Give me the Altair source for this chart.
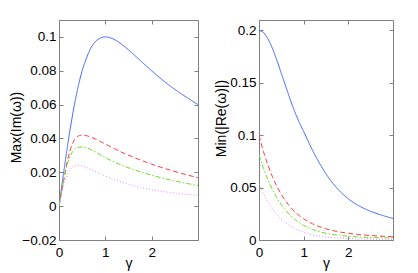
import altair as alt
import pandas as pd

gamma = [0.0, 0.1, 0.2, 0.3, 0.4, 0.5, 0.6, 0.7, 0.8, 0.9, 1.0,
         1.2, 1.4, 1.6, 1.8, 2.0, 2.2, 2.4, 2.6, 2.8, 3.0]

series_names = ["a", "b", "c", "d"]
series_colors = ["#3f62ff", "#ff3b3b", "#6fdd22", "#e48cff"]
series_dashes = [[1, 0], [5, 3], [5, 2, 1.5, 2], [1, 2]]

# Left panel: Max(Im(omega))
im_a = [0, 0.0198, 0.0385, 0.055, 0.069, 0.080, 0.088, 0.094, 0.0976, 0.0994, 0.1,
        0.0984, 0.0946, 0.0899, 0.0849, 0.080, 0.0753, 0.0710, 0.0671, 0.0635, 0.060]
im_b = [0, 0.015, 0.029, 0.0375, 0.0412, 0.042, 0.0416, 0.0407, 0.0395, 0.0381, 0.0367,
        0.0339, 0.0313, 0.0290, 0.0268, 0.0248, 0.0230, 0.0213, 0.0197, 0.0182, 0.0168]
im_c = [0, 0.015, 0.0265, 0.0324, 0.0346, 0.035, 0.0344, 0.0333, 0.0318, 0.0302, 0.0287,
        0.0260, 0.0237, 0.0217, 0.0199, 0.0183, 0.0168, 0.0155, 0.0143, 0.0132, 0.0122]
im_d = [0, 0.012, 0.0195, 0.0233, 0.0243, 0.0238, 0.0228, 0.0215, 0.0202, 0.019, 0.0178,
        0.0157, 0.0138, 0.0122, 0.0108, 0.0097, 0.0088, 0.008, 0.0074, 0.0069, 0.0065]

# Right panel: Min(|Re(omega)|)
re_a = [0.2, 0.198, 0.192, 0.183, 0.1715, 0.159, 0.1465, 0.134, 0.1225, 0.1125, 0.1035,
        0.0855, 0.0700, 0.0570, 0.0470, 0.0393, 0.0335, 0.0292, 0.0258, 0.0230, 0.0206]
re_b = [0.1, 0.0845, 0.0715, 0.0605, 0.0512, 0.0435, 0.0370, 0.0315, 0.0270, 0.0233, 0.0202,
        0.0154, 0.0120, 0.0095, 0.0077, 0.0064, 0.0054, 0.0046, 0.0040, 0.0035, 0.0031]
re_c = [0.0815, 0.0685, 0.0575, 0.0482, 0.0403, 0.0337, 0.0282, 0.0236, 0.0198, 0.0166, 0.0140,
        0.0101, 0.0074, 0.0056, 0.0044, 0.0036, 0.0030, 0.0026, 0.0023, 0.0021, 0.0019]
re_d = [0.0535, 0.0440, 0.0361, 0.0296, 0.0243, 0.0199, 0.0163, 0.0134, 0.0110, 0.0090, 0.0074,
        0.0050, 0.0034, 0.0025, 0.0019, 0.0015, 0.0012, 0.0010, 0.0008, 0.0007, 0.0006]

x_ticks = [0, 1, 2]
left_ticks = [-0.02, 0, 0.02, 0.04, 0.06, 0.08, 0.1]
right_ticks = [0, 0.05, 0.1, 0.15, 0.2]


def long_df(cols):
    rows = []
    for name, vals in zip(series_names, cols):
        for g, v in zip(gamma, vals):
            rows.append({"gamma": g, "value": v, "series": name})
    return pd.DataFrame(rows)


FRAME = "#808080"
FONT = "Liberation Sans"


def panel(df, ytitle, ydomain, yticks, width, title_x, title_y):
    xs = alt.Scale(domain=[0, 3], nice=False, zero=False)
    ys = alt.Scale(domain=ydomain, nice=False, zero=False)
    common = dict(domain=False, grid=False, tickSize=4, offset=-4,
                  tickColor=FRAME, labelFont=FONT, labelFontSize=13.5,
                  labelColor="#000000", titleFont=FONT, titleFontSize=14,
                  titleFontWeight="normal", titleColor="#000000",
                  labelOverlap=False, labelFlush=False)
    lines = alt.Chart(df).mark_line(strokeWidth=1, interpolate="monotone", clip=True).encode(
        x=alt.X("gamma:Q", scale=xs,
                axis=alt.Axis(orient="bottom", values=x_ticks, format="~g", title="γ",
                              labelPadding=5, titlePadding=-2, **common)),
        y=alt.Y("value:Q", scale=ys,
                axis=alt.Axis(orient="left", values=yticks, format="~g", title=ytitle,
                              labelPadding=3, titleX=title_x, titleY=title_y,
                              titleBaseline="middle", **common)),
        color=alt.Color("series:N", scale=alt.Scale(domain=series_names, range=series_colors),
                        legend=None),
        strokeDash=alt.StrokeDash("series:N",
                                  scale=alt.Scale(domain=series_names, range=series_dashes),
                                  legend=None),
    )
    mirror = alt.Chart(df).mark_line(opacity=0).encode(
        x=alt.X("gamma:Q", scale=xs,
                axis=alt.Axis(orient="top", values=x_ticks, labels=False, title=None, **common)),
        y=alt.Y("value:Q", scale=ys,
                axis=alt.Axis(orient="right", values=yticks, labels=False, title=None, **common)),
        detail="series:N",
    )
    return alt.layer(lines, mirror).resolve_axis(x="independent", y="independent").properties(
        width=width, height=220)


left = panel(long_df([im_a, im_b, im_c, im_d]), "Max(Im(ω))", [-0.02, 0.11], left_ticks,
             139, -46.5, 107)
right = panel(long_df([re_a, re_b, re_c, re_d]), "Min(|Re(ω)|)", [0, 0.21], right_ticks,
              134, -41.5, 98)

chart = alt.hconcat(left, right, spacing=15).properties(
    padding={"left": 1, "top": 11, "right": 5, "bottom": 5}
).configure_view(stroke=FRAME, strokeWidth=1)

chart.save("out.html", embed_options={"renderer": "svg", "actions": False})
